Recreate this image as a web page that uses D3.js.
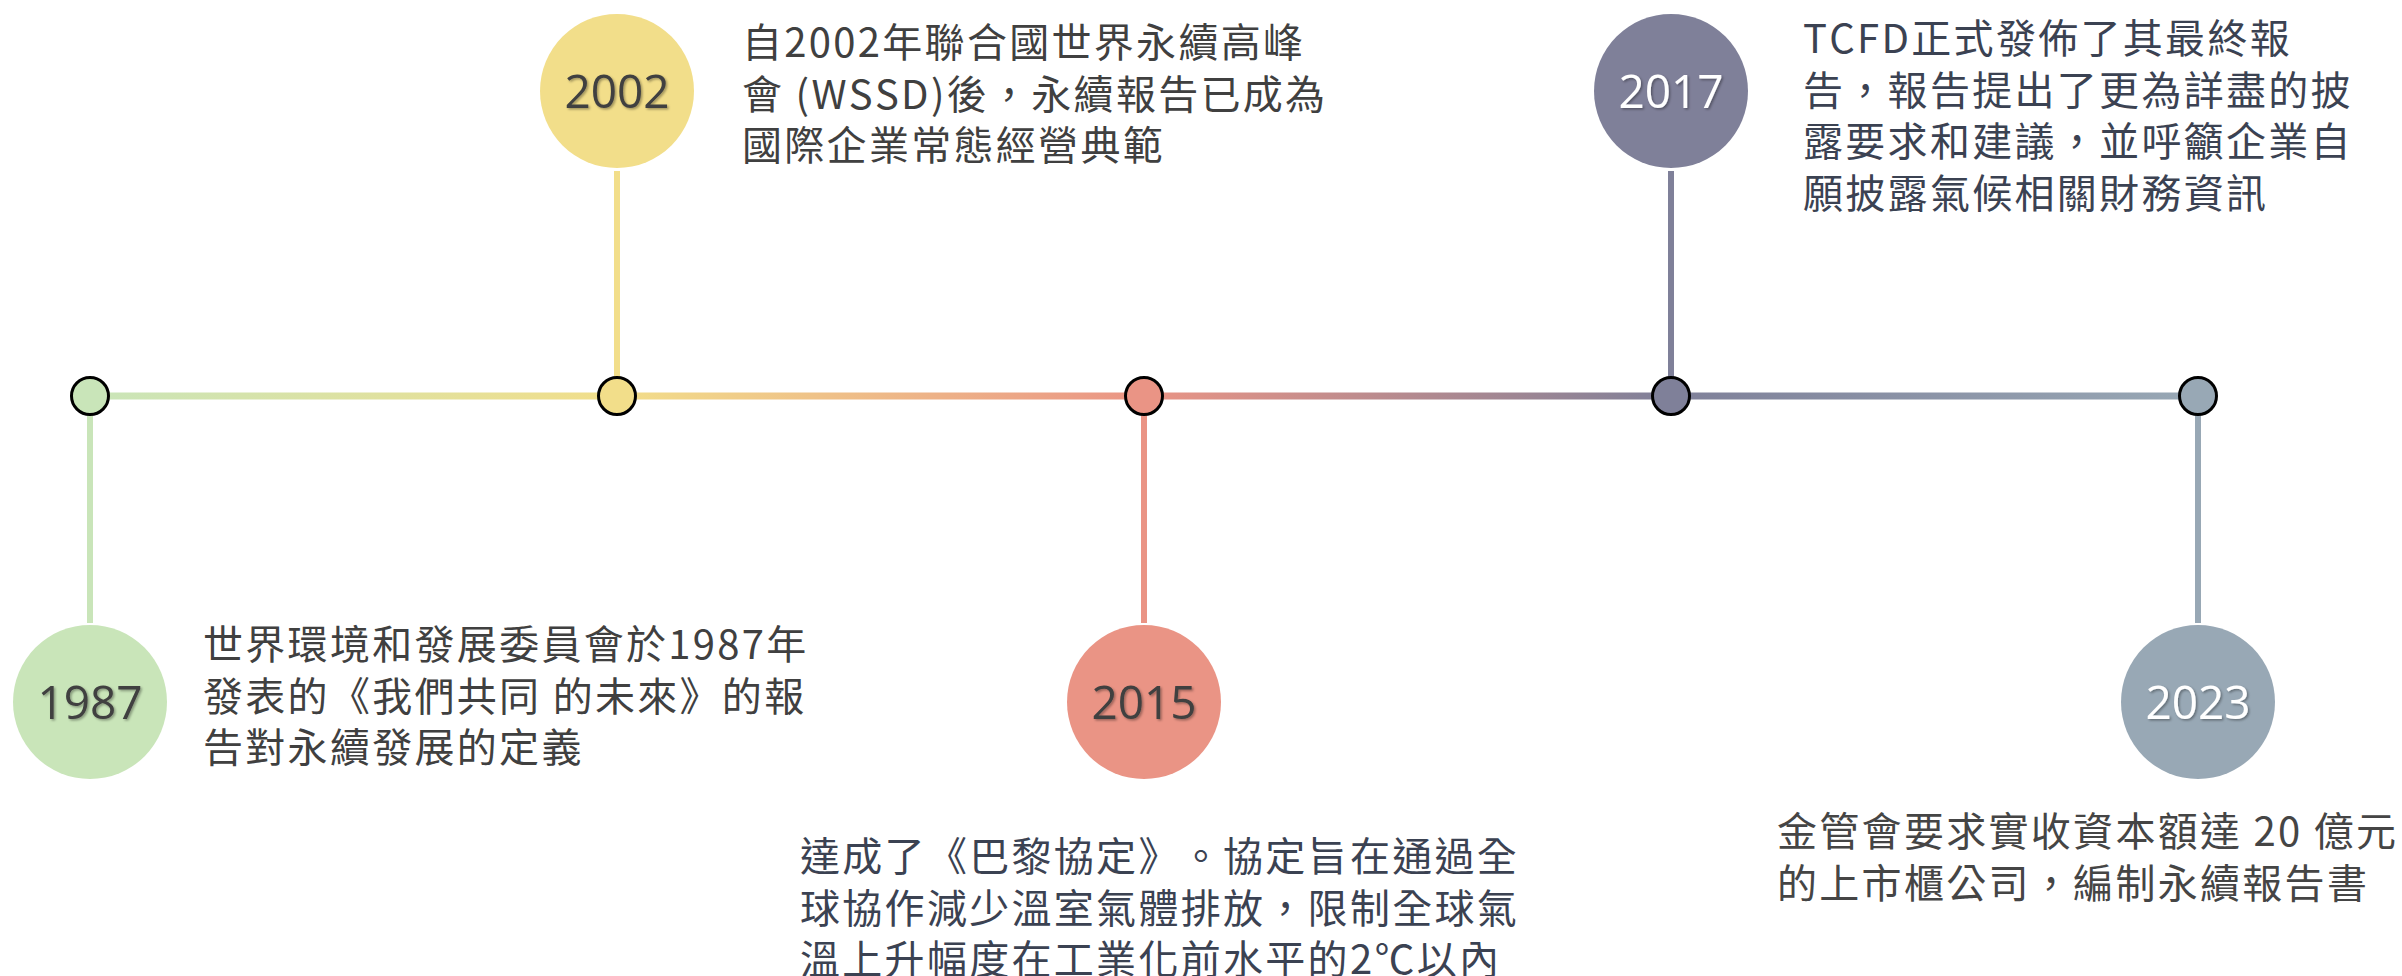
<!DOCTYPE html>
<html lang="zh-TW">
<head>
<meta charset="utf-8">
<script src="https://cdn.jsdelivr.net/npm/d3@7/dist/d3.min.js"></script>
<style>
  html, body { margin: 0; padding: 0; background: #fff; }
  svg { display: block; }
  .desc { text-spacing-trim: space-all; font-kerning: none; }
</style>
</head>
<body>
<svg id="chart"></svg>
<script>
// timeline data
const years = ['1987', '2002', '2015', '2017', '2023'];

const descriptions = [
  ['世界環境和發展委員會於1987年', '發表的《我們共同 的未來》的報', '告對永續發展的定義'],
  ['自2002年聯合國世界永續高峰', '會 (WSSD)後，永續報告已成為', '國際企業常態經營典範'],
  ['達成了《巴黎協定》。協定旨在通過全', '球協作減少溫室氣體排放，限制全球氣', '溫上升幅度在工業化前水平的2℃以內'],
  ['TCFD正式發佈了其最終報', '告，報告提出了更為詳盡的披', '露要求和建議，並呼籲企業自', '願披露氣候相關財務資訊'],
  ['金管會要求實收資本額達 20 億元', '的上市櫃公司，編制永續報告書']
];

// styles
const palette  = ['#c9e5b9', '#f2de8a', '#ea9485', '#7f8099', '#98a8b5'];
const yearInk  = ['#404040', '#404040', '#3f3f3f', '#ffffff', '#ffffff'];
const textInk  = ['#404040', '#404040', '#3b4252', '#3b4252', '#454545'];

// where each description block sits relative to its year bubble
const labelOffsets = [
  { dx: 113,  dy: -60 },
  { dx: 125,  dy: -51 },
  { dx: -344, dy: 152 },
  { dx: 132,  dy: -55 },
  { dx: -421, dy: 127 }
];

const W = 2402, H = 976;
const lineY = 396;
const bubbleR = 77, nodeR = 18.5;
const lineH = 51.5;

const svg = d3.select('#chart')
  .attr('width', W)
  .attr('height', H);

const x = d3.scalePoint()
  .domain(years)
  .range([90, 2198]);

// alternate: even index below the line, odd above
const side = (d, i) => i % 2 === 0 ? 'below' : 'above';
const bubbleY = d3.scaleOrdinal()
  .domain(['above', 'below'])
  .range([91, 702]);

const defs = svg.append('defs');

// gradient across the main line, one stop per event
const grad = defs.append('linearGradient')
  .attr('id', 'line-grad')
  .attr('gradientUnits', 'userSpaceOnUse')
  .attr('x1', x(years[0]))
  .attr('x2', x(years[years.length - 1]))
  .attr('y1', 0)
  .attr('y2', 0);

grad.selectAll('stop')
  .data(years)
  .join('stop')
  .attr('offset', d => (x(d) - x(years[0])) / (x(years[years.length - 1]) - x(years[0])))
  .attr('stop-color', (d, i) => palette[i]);

const shadow = defs.append('filter')
  .attr('id', 'txt-shadow')
  .attr('x', '-20%').attr('y', '-20%')
  .attr('width', '140%').attr('height', '140%');
shadow.append('feDropShadow')
  .attr('dx', 1.5)
  .attr('dy', 1.5)
  .attr('stdDeviation', 1.2)
  .attr('flood-color', '#000')
  .attr('flood-opacity', 0.35);

// main horizontal line
svg.append('line')
  .attr('x1', x(years[0]))
  .attr('x2', x(years[years.length - 1]))
  .attr('y1', lineY)
  .attr('y2', lineY)
  .attr('stroke', 'url(#line-grad)')
  .attr('stroke-width', 7);

// connectors between line and bubbles
svg.selectAll('.connector')
  .data(years)
  .join('line')
  .attr('class', 'connector')
  .attr('x1', d => x(d))
  .attr('x2', d => x(d))
  .attr('y1', lineY)
  .attr('y2', (d, i) => side(d, i) === 'above'
    ? bubbleY('above') + bubbleR + 3
    : bubbleY('below') - bubbleR - 2)
  .attr('stroke', (d, i) => palette[i])
  .attr('stroke-width', 6);

// small nodes on the line
svg.selectAll('.node')
  .data(years)
  .join('circle')
  .attr('class', 'node')
  .attr('cx', d => x(d))
  .attr('cy', lineY)
  .attr('r', nodeR)
  .attr('fill', (d, i) => palette[i])
  .attr('stroke', '#000')
  .attr('stroke-width', 3);

// year bubbles
const bubbles = svg.selectAll('.bubble')
  .data(years)
  .join('g')
  .attr('class', 'bubble')
  .attr('transform', (d, i) => `translate(${x(d)},${bubbleY(side(d, i))})`);

bubbles.append('circle')
  .attr('r', bubbleR)
  .attr('fill', (d, i) => palette[i]);

bubbles.append('text')
  .attr('text-anchor', 'middle')
  .attr('y', 16.5)
  .attr('font-family', '"Open Sans", "Noto Sans", sans-serif')
  .attr('font-size', 46)
  .attr('fill', (d, i) => yearInk[i])
  .attr('filter', 'url(#txt-shadow)')
  .text(d => d);

// descriptions, one text per line
const labels = svg.selectAll('.desc-group')
  .data(years)
  .join('g')
  .attr('class', 'desc-group')
  .attr('fill', (d, i) => textInk[i]);

labels.each(function(d, i) {
  const cx = x(d), cy = bubbleY(side(d, i));
  d3.select(this).selectAll('text')
    .data(descriptions[i])
    .join('text')
    .attr('class', 'desc')
    .attr('font-family', '"Noto Sans CJK TC", "Noto Sans CJK SC", sans-serif')
    .attr('font-size', 40)
    .attr('letter-spacing', 2.3)
    .attr('dominant-baseline', 'central')
    .attr('x', cx + labelOffsets[i].dx)
    .attr('y', (t, j) => cy + labelOffsets[i].dy + j * lineH)
    .text(t => t);
});
</script>
</body>
</html>
